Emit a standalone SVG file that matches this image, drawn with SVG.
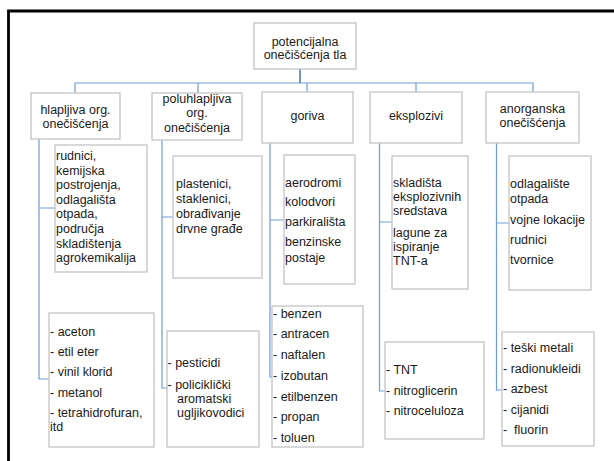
<svg xmlns="http://www.w3.org/2000/svg" width="614" height="461" viewBox="0 0 614 461">
<style>
.box{fill:#fff;stroke:#c4c4c4;stroke-width:1.3}
.t{font-family:"Liberation Sans",Arial,sans-serif;font-size:12.5px;fill:#1a1a1a}
.c{text-anchor:middle}
.cn{fill:none;stroke:#6f9dd3;stroke-width:1.2}
</style>
<rect width="614" height="461" fill="#fff"/>
<path d="M8.5 470 V11 H620" fill="none" stroke="#000" stroke-width="2.8"/>
<g id="connectors">
<path class="cn" d="M75 93 V83 H533 V93 M198 83 V93 M307 83 V93 M416 83 V93"/>
<path d="M300 69 V83" stroke="#3a6aa5" stroke-width="1.4" fill="none"/>
<path class="cn" d="M39 139 V379 H49 M39 208 H55"/>
<path class="cn" d="M162 140 V388 H167 M162 217 H173"/>
<path class="cn" d="M270 143 V377 H272 M270 220 H284"/>
<path class="cn" d="M379.5 143 V391 H385 M379.5 222 H392"/>
<path class="cn" d="M496.5 143 V390 H502 M496.5 223 H509"/>
</g>
<g id="root">
<rect class="box" x="254" y="23" width="102" height="46"/>
<text class="t c" x="305" y="46">potencijalna</text>
<text class="t c" x="305" y="58.5">onečišćenja tla</text>
</g>
<g id="hlapljiva">
<rect class="box" x="31" y="93" width="89" height="46"/>
<text class="t c" x="75.5" y="113.5">hlapljiva org.</text>
<text class="t c" x="75.5" y="127.5">onečišćenja</text>
</g>
<g id="poluhlapljiva">
<rect class="box" x="152" y="93" width="90" height="47"/>
<text class="t c" x="197" y="102.5">poluhlapljiva</text>
<text class="t c" x="197" y="117">org.</text>
<text class="t c" x="197" y="131.5">onečišćenja</text>
</g>
<g id="goriva">
<rect class="box" x="262" y="92" width="91" height="51"/>
<text class="t c" x="307.5" y="120">goriva</text>
</g>
<g id="eksplozivi">
<rect class="box" x="370" y="92" width="92" height="51"/>
<text class="t c" x="416" y="120">eksplozivi</text>
</g>
<g id="anorganska">
<rect class="box" x="486" y="92" width="93" height="51"/>
<text class="t c" x="532.5" y="113">anorganska</text>
<text class="t c" x="532.5" y="127">onečišćenja</text>
</g>
<g id="hlapljiva-izvori">
<rect class="box" x="55" y="145" width="92" height="127"/>
<text class="t" x="56" y="160">rudnici,</text>
<text class="t" x="56" y="174.6">kemijska</text>
<text class="t" x="56" y="189.2">postrojenja,</text>
<text class="t" x="56" y="203.8">odlagališta</text>
<text class="t" x="56" y="218.4">otpada,</text>
<text class="t" x="56" y="233">područja</text>
<text class="t" x="56" y="247.6">skladištenja</text>
<text class="t" x="56" y="262.2">agrokemikalija</text>
</g>
<g id="poluhlapljiva-izvori">
<rect class="box" x="173" y="156" width="89" height="122"/>
<text class="t" x="176" y="187.5">plastenici,</text>
<text class="t" x="176" y="202.5">staklenici,</text>
<text class="t" x="176" y="217.5">obrađivanje</text>
<text class="t" x="176" y="232.5">drvne građe</text>
</g>
<g id="goriva-izvori">
<rect class="box" x="284" y="155" width="71" height="129"/>
<text class="t" x="285" y="186.5">aerodromi</text>
<text class="t" x="285" y="206">kolodvori</text>
<text class="t" x="285" y="226">parkirališta</text>
<text class="t" x="285" y="246">benzinske</text>
<text class="t" x="285" y="261.5">postaje</text>
</g>
<g id="eksplozivi-izvori">
<rect class="box" x="392" y="156" width="76" height="133"/>
<text class="t" x="393" y="186.5">skladišta</text>
<text class="t" x="393" y="200.5">eksplozivnih</text>
<text class="t" x="393" y="214.5">sredstava</text>
<text class="t" x="393" y="236.5">lagune za</text>
<text class="t" x="393" y="251">ispiranje</text>
<text class="t" x="393" y="265">TNT-a</text>
</g>
<g id="anorganska-izvori">
<rect class="box" x="509" y="156" width="82" height="134"/>
<text class="t" x="510" y="187.5">odlagalište</text>
<text class="t" x="510" y="203">otpada</text>
<text class="t" x="510" y="223.5">vojne lokacije</text>
<text class="t" x="510" y="243.5">rudnici</text>
<text class="t" x="510" y="264">tvornice</text>
</g>
<g id="hlapljiva-tvari">
<rect class="box" x="49" y="313" width="105" height="134"/>
<text class="t" x="50" y="335.5">- aceton</text>
<text class="t" x="50" y="355.5">- etil eter</text>
<text class="t" x="50" y="375.5">- vinil klorid</text>
<text class="t" x="50" y="396.5">- metanol</text>
<text class="t" x="50" y="417">- tetrahidrofuran,</text>
<text class="t" x="50" y="431">itd</text>
</g>
<g id="poluhlapljiva-tvari">
<rect class="box" x="167" y="331" width="92" height="116"/>
<text class="t" x="167.5" y="366.5">- pesticidi</text>
<text class="t" x="167.5" y="388.5">- policiklički</text>
<text class="t" x="177" y="402.5">aromatski</text>
<text class="t" x="177" y="416.5">ugljikovodici</text>
</g>
<g id="goriva-tvari">
<rect class="box" x="272" y="306" width="91" height="141"/>
<text class="t" x="273" y="317.5">- benzen</text>
<text class="t" x="273" y="338">- antracen</text>
<text class="t" x="273" y="358.5">- naftalen</text>
<text class="t" x="273" y="380">- izobutan</text>
<text class="t" x="273" y="400.5">- etilbenzen</text>
<text class="t" x="273" y="421">- propan</text>
<text class="t" x="273" y="441.5">- toluen</text>
</g>
<g id="eksplozivi-tvari">
<rect class="box" x="385" y="342" width="99" height="97"/>
<text class="t" x="386" y="373.5">- TNT</text>
<text class="t" x="386" y="394.5">- nitroglicerin</text>
<text class="t" x="386" y="414.5">- nitroceluloza</text>
</g>
<g id="anorganska-tvari">
<rect class="box" x="502" y="332" width="92" height="114"/>
<text class="t" x="503" y="351.5">- teški metali</text>
<text class="t" x="503" y="372.5">- radionukleidi</text>
<text class="t" x="503" y="392.5">- azbest</text>
<text class="t" x="503" y="413.5">- cijanidi</text>
<text class="t" x="503" y="433.5" xml:space="preserve">-  fluorin</text>
</g>
</svg>
